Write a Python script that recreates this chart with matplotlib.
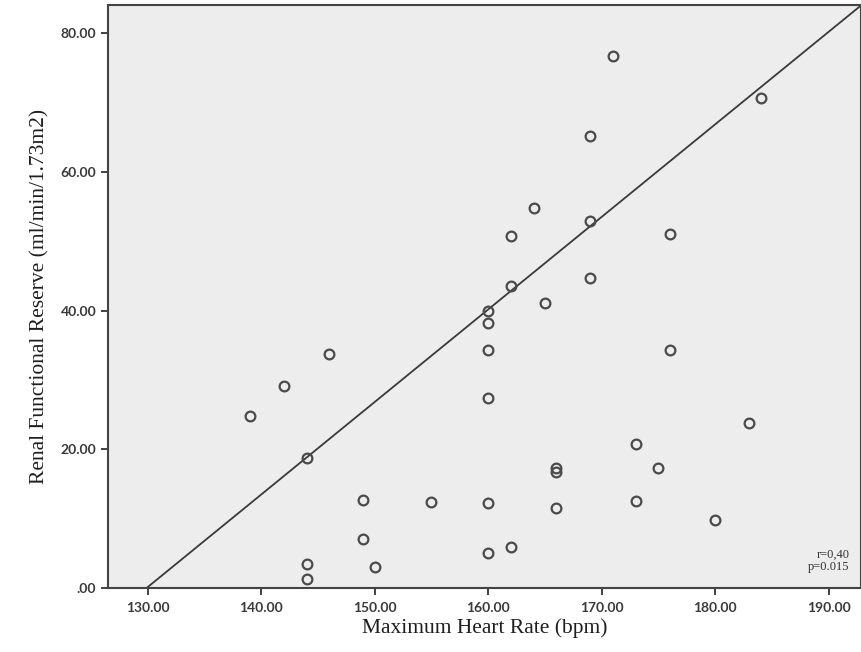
import matplotlib
matplotlib.use("Agg")
import matplotlib.pyplot as plt
import numpy as np

# values
heart_rate = [171, 184, 169, 164, 162, 169, 176, 162, 169, 165, 160, 160,
              146, 160, 142, 176, 139, 160, 144, 183, 173, 175, 166, 166,
              149, 155, 160, 166, 173, 180, 149, 144, 150, 160, 162, 144]
rfr = [76.8, 70.7, 65.2, 54.8, 50.8, 53.0, 51.1, 43.6, 44.7, 41.1, 40.0, 38.2,
       33.8, 34.3, 29.1, 34.3, 24.8, 27.4, 18.8, 23.8, 20.8, 17.3, 17.3, 16.7,
       12.7, 12.4, 12.3, 11.5, 12.6, 9.8, 7.1, 3.5, 3.0, 5.1, 5.9, 1.3]

# fit line as drawn in the reference
fit_slope = 1.335
fit_x0 = 129.9

x_ticks = [130, 140, 150, 160, 170, 180, 190]
y_ticks = [0, 20, 40, 60, 80]
stats_text = "r=0,40\np=0.015"

plt.rcParams['font.family'] = ['Liberation Serif', 'DejaVu Serif']

fig = plt.figure(figsize=(8.61, 6.52), dpi=100)
ax = fig.add_axes([108/861, 1 - 588/652, 1 - 108/861, (588 - 5)/652])
ax.set_facecolor('#ededed')

xlim = (126.5, 192.85)
ylim = (0, 84.1)

xs = np.array(xlim)
ax.plot(xs, fit_slope * (xs - fit_x0), color='#3a3a3a', lw=1.3, zorder=2)

ax.plot(heart_rate, rfr, linestyle='none', marker='o', ms=7, mfc='none',
        mec='#4a4a4a', mew=1.6, zorder=3)

ax.set_xlim(*xlim)
ax.set_ylim(*ylim)
ax.set_xticks(x_ticks)
ax.set_xticklabels([f"{v:.2f}" for v in x_ticks])
ax.set_yticks(y_ticks)
ax.set_yticklabels([".00" if v == 0 else f"{v:.2f}" for v in y_ticks])
ax.tick_params(direction='out', length=5, width=1.3, color='#333333',
               labelsize=10, labelcolor='#3a3a3a')
ax.tick_params(axis='x', pad=5)
for lab in ax.get_xticklabels() + ax.get_yticklabels():
    lab.set_family(['Lato', 'DejaVu Sans'])
    lab.set_fontweight('bold')

for s in ax.spines.values():
    s.set_color('#444444')
    s.set_linewidth(1.5)

ax.set_xlabel("Maximum Heart Rate (bpm)", fontsize=15.5, color='#1e1e1e', labelpad=3)
ax.set_ylabel("Renal Functional Reserve (ml/min/1.73m2)", fontsize=15.5,
              color='#1e1e1e', labelpad=8)

ax.text(0.985, 0.025, stats_text, transform=ax.transAxes, ha='right', va='bottom',
        fontsize=9, color='#333333', linespacing=1.1)

fig.savefig("out.png", dpi=100)
